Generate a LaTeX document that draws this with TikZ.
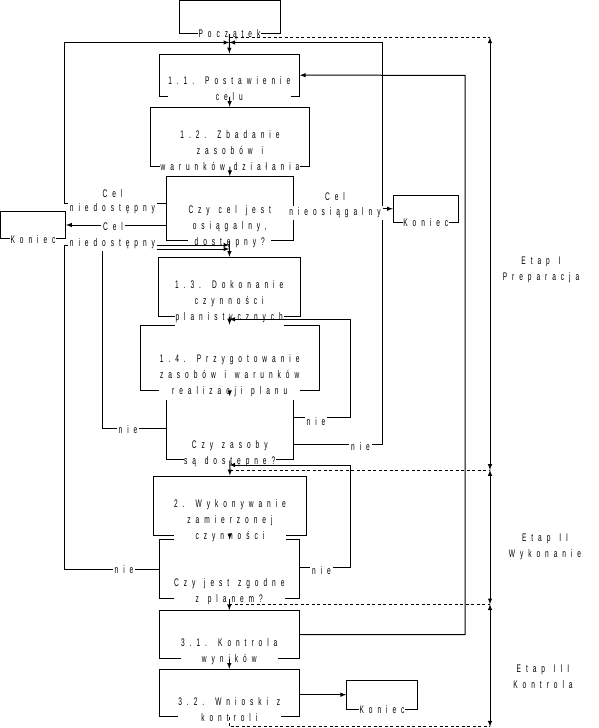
\documentclass[tikz,border=0pt]{standalone}
\usepackage{fontspec}
\setmainfont{Liberation Sans}[FakeStretch=0.6,LetterSpace=45,WordSpace=1.3]
\usetikzlibrary{positioning,calc}

\tikzset{
  blok/.style={draw, line width=1pt, inner sep=0pt},
  napis/.style={fill=white, inner sep=0.5pt, align=center, anchor=south,
    font=\fontsize{11}{16}\selectfont, execute at end node=\strut},
  etykieta/.style={fill=white, inner sep=2pt, font=\fontsize{11}{16}\selectfont},
  polacz/.style={line width=1pt, -latex},
  granica/.style={line width=1pt, dash pattern=on 3pt off 2.5pt},
}

\begin{document}
\begin{tikzpicture}[x=1pt,y=-1pt]
            \useasboundingbox (0,0) rectangle (599,728);
            % bloki
            \node[blok, minimum width=101pt, minimum height=33pt] (start) at (229.5,17) {};
            \node[blok, minimum width=140pt, minimum height=42.3pt] (b11) at (229.3,75.2) {};
            \node[blok, minimum width=158.6pt, minimum height=58.7pt] (b12) at (230,136.7) {};
            \node[blok, minimum width=127.3pt, minimum height=64.3pt] (d1) at (229.7,208.8) {};
            \node[blok, minimum width=65pt, minimum height=27.3pt] (k1) at (33,225.3) {};
            \node[blok, minimum width=65pt, minimum height=27.3pt] (k2) at (425.8,208.7) {};
            \node[blok, minimum width=141.7pt, minimum height=58.7pt] (b13) at (229.2,286.7) {};
            \node[blok, minimum width=179.3pt, minimum height=65pt] (b14) at (229.7,357.5) {};
            \node[blok, minimum width=127.3pt, minimum height=63.3pt] (d2) at (229.7,428.3) {};
            \node[blok, minimum width=153.4pt, minimum height=59pt] (b2) at (230,505.5) {};
            \node[blok, minimum width=140pt, minimum height=58.7pt] (d3) at (229.3,569.3) {};
            \node[blok, minimum width=140pt, minimum height=47.6pt] (b31) at (229.3,634.5) {};
            \node[blok, minimum width=140pt, minimum height=47.4pt] (b32) at (229.3,693) {};
            \node[blok, minimum width=70.6pt, minimum height=29.3pt] (k3) at (382,694.7) {};
            % teksty w blokach
            \node[napis] (startt) at ([yshift=-9.3pt]start.south) {Początek};
            \node[napis] (b11t) at ([yshift=-9.3pt]b11.south) {1.1. Postawienie\\celu};
            \node[napis] (b12t) at ([yshift=-9.3pt]b12.south) {1.2. Zbadanie\\zasobów i\\warunków działania};
            \node[napis] (d1t) at ([yshift=-9.3pt]d1.south) {Czy cel jest\\osiągalny,\\dostępny?};
            \node[napis] (k1t) at ([yshift=-9.3pt]k1.south) {Koniec};
            \node[napis] (k2t) at ([yshift=-9.3pt]k2.south) {Koniec};
            \node[napis] (b13t) at ([yshift=-9.3pt]b13.south) {1.3. Dokonanie\\czynności\\planistycznych};
            \node[napis] (b14t) at ([yshift=-9.3pt]b14.south) {1.4. Przygotowanie\\zasobów i warunków\\realizacji planu};
            \node[napis] (d2t) at ([yshift=-9.3pt]d2.south) {Czy zasoby\\są dostępne?};
            \node[napis] (b2t) at ([yshift=-9.3pt]b2.south) {2. Wykonywanie\\zamierzonej\\czynności};
            \node[napis] (d3t) at ([yshift=-9.3pt]d3.south) {Czy jest zgodne\\z planem?};
            \node[napis] (b31t) at ([yshift=-9.3pt]b31.south) {3.1. Kontrola\\wyników};
            \node[napis] (b32t) at ([yshift=-9.3pt]b32.south) {3.2. Wnioski z\\kontroli};
            \node[napis] (k3t) at ([yshift=-9.3pt]k3.south) {Koniec};
            % punkty wejscia na osi
            \coordinate (jtop) at (229.3,42.5);
            \coordinate (jmid1) at (229.3,245);
            \coordinate (jmid2) at (229.3,249);
            \coordinate (j13) at (229.3,319.3);
            \coordinate (j2) at (229.3,465);
            % glowna os
            \draw[polacz] (start) -- (b11);
            \draw[polacz] (b11) -- (b12);
            \draw[polacz] (b12) -- (d1);
            \draw[polacz] (d1) -- (b13);
            \draw[polacz] (b13) -- (b14);
            \draw[polacz] (b14) -- (d2);
            \draw[polacz] (d2) -- (b2);
            \draw[polacz] (b2) -- (d3);
            \draw[polacz] (d3) -- (b31);
            \draw[polacz] (b31) -- (b32);
            % petle
            \draw[polacz] (d1.west |- 0,203) -| (64,42.5) -- (jtop);
            \draw[polacz] (d1.west |- 0,225) -- (k1.east |- 0,225);
            \draw[polacz] (d1.east |- k2.west) -- (k2.west);
            \draw[polacz] (d3.west |- 0,569.5) -| (64,245) -- (jmid1);
            \draw[polacz] (d2.west |- 0,428) -| (102,249) -- (jmid2);
            \draw[polacz] (d2.east |- 0,417.3) -| (350,319.3) -- (j13);
            \draw[polacz] (d2.east |- 0,444.3) -| (382,42.5) -- (jtop);
            \draw[polacz] (d3.east |- 0,567.3) -| (350,465) -- (j2);
            \draw[polacz] (b31.east) -| (465,75.3) -- (b11.east);
            \draw[polacz] (b32.east |- k3.west) -- (k3.west);
            % etykiety
            \node[etykieta] (cel1) at (112.5,194) {Cel};
            \node[etykieta] (nd1) at (112.5,209) {niedostępny};
            \node[etykieta] (cel2) at (113,227) {Cel};
            \node[etykieta] (nd2) at (112.5,244) {niedostępny};
            \node[etykieta] (cel3) at (335,197) {Cel};
            \node[etykieta] (no3) at (335,213) {nieosiągalny};
            \node[etykieta] (nie1) at (128,429.5) {nie};
            \node[etykieta] (nie2) at (316,421.5) {nie};
            \node[etykieta] (nie3) at (360.5,446.7) {nie};
            \node[etykieta] (nie4) at (124,570) {nie};
            \node[etykieta] (nie5) at (321.5,571) {nie};
            % etapy
            \coordinate (e0) at (490,37.3);
            \coordinate (e1) at (490,470);
            \coordinate (e2) at (490,604.3);
            \coordinate (e3) at (490,726.7);
            \draw[granica] (start.south |- e0) -- (e0);
            \draw[granica] (b2.north |- e1) -- (e1);
            \draw[granica] (b31.north |- e2) -- (e2);
            \draw[granica] (b32.south) -- (b32.south |- e3) -- (e3);
            \draw[line width=1pt, latex-latex] (e0) -- (e1);
            \draw[line width=1pt, latex-latex] (e1) -- (e2);
            \draw[line width=1pt, latex-latex] (e2) -- (e3);
            \node[align=center, font=\fontsize{11}{16}\selectfont] (etap1) at (541,269.5) {Etap I\\Preparacja};
            \node[align=center, font=\fontsize{11}{16}\selectfont] (etap2) at (545,547) {Etap II\\Wykonanie};
            \node[align=center, font=\fontsize{11}{16}\selectfont] (etap3) at (543,677) {Etap III\\Kontrola};
\end{tikzpicture}
\end{document}
